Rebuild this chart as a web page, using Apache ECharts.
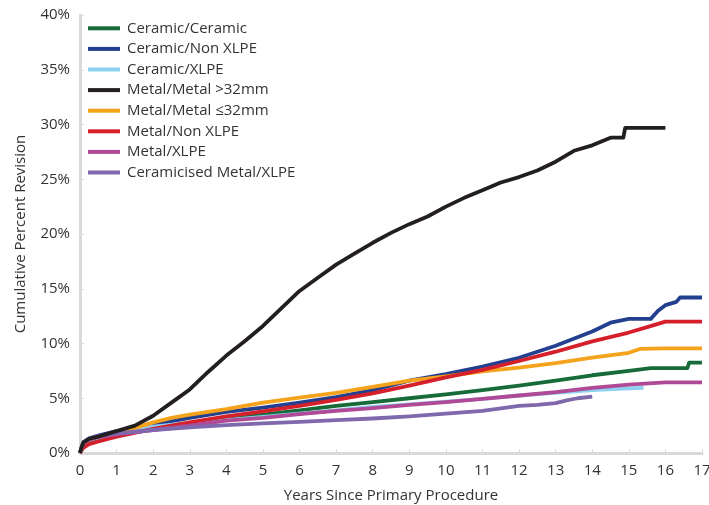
<!DOCTYPE html>
<html><head><meta charset="utf-8">
<script src="https://cdn.jsdelivr.net/npm/echarts@6/dist/echarts.min.js"></script>
<style>html,body{margin:0;padding:0;background:#fff}#c{width:709px;height:505px}</style>
</head><body><div id="c"></div>
<script>
// [years, cumulative percent revision]
const ceramicCeramic = [[0,0],[0.05,0.5],[0.1,0.8],[0.25,1.1],[0.5,1.35],[1,1.7],[2,2.2],[3,2.6],[4,3.05],[5,3.5],[6,3.9],[7,4.3],[8,4.65],[9,5.0],[10,5.35],[11,5.75],[12,6.15],[13,6.6],[14,7.1],[15,7.5],[15.6,7.75],[16.6,7.75],[16.65,8.25],[17,8.25]];
const ceramicNonXLPE = [[0,0],[0.05,0.6],[0.1,1.0],[0.25,1.35],[0.5,1.6],[1,2.0],[1.5,2.3],[2,2.6],[3,3.2],[4,3.75],[5,4.15],[6,4.6],[7,5.1],[8,5.75],[9,6.6],[10,7.2],[11,7.9],[12,8.7],[13,9.8],[14,11.1],[14.5,11.9],[15,12.25],[15.6,12.25],[15.8,13.0],[16,13.5],[16.3,13.8],[16.4,14.2],[17,14.2]];
const ceramicXLPE = [[0,0],[0.05,0.5],[0.1,0.9],[0.25,1.2],[0.5,1.4],[1,1.75],[2,2.4],[3,2.75],[4,3.0],[5,3.3],[6,3.6],[7,3.9],[8,4.2],[9,4.45],[10,4.7],[11,4.95],[12,5.25],[13,5.5],[14,5.75],[15,5.9],[15.4,5.95]];
const metalMetalGt32 = [[0,0],[0.05,0.6],[0.1,1.0],[0.25,1.3],[0.5,1.5],[1,2.0],[1.5,2.5],[2,3.4],[2.5,4.6],[3,5.8],[3.5,7.4],[4,8.9],[4.5,10.2],[5,11.6],[5.5,13.2],[6,14.8],[6.5,16.0],[7,17.2],[7.5,18.2],[8,19.2],[8.5,20.1],[9,20.9],[9.5,21.6],[10,22.5],[10.5,23.3],[11,24.0],[11.5,24.7],[12,25.2],[12.5,25.8],[13,26.6],[13.5,27.6],[14,28.1],[14.5,28.8],[14.85,28.8],[14.9,29.7],[16,29.7]];
const metalMetalLe32 = [[0,0],[0.05,0.5],[0.1,0.9],[0.25,1.2],[0.5,1.5],[1,1.85],[1.5,2.3],[2,2.8],[2.5,3.2],[3,3.5],[4,4.0],[5,4.6],[6,5.05],[7,5.5],[8,6.05],[9,6.6],[10,7.0],[11,7.45],[12,7.8],[13,8.2],[14,8.7],[15,9.15],[15.3,9.5],[16,9.55],[17,9.55]];
const metalNonXLPE = [[0,0],[0.05,0.3],[0.1,0.5],[0.25,0.8],[0.5,1.05],[1,1.5],[2,2.2],[3,2.8],[4,3.35],[5,3.8],[6,4.3],[7,4.85],[8,5.45],[9,6.15],[10,6.9],[11,7.6],[12,8.4],[13,9.25],[14,10.2],[15,11.0],[15.5,11.5],[16,12.0],[17,12.0]];
const metalXLPE = [[0,0],[0.05,0.5],[0.1,0.9],[0.25,1.2],[0.5,1.45],[1,1.7],[2,2.1],[3,2.5],[4,2.95],[5,3.2],[6,3.55],[7,3.85],[8,4.1],[9,4.4],[10,4.65],[11,4.95],[12,5.25],[13,5.55],[14,5.95],[15,6.25],[16,6.45],[17,6.45]];
const ceramicisedMetalXLPE = [[0,0],[0.05,0.6],[0.1,1.0],[0.25,1.3],[0.5,1.55],[1,1.8],[2,2.1],[3,2.35],[4,2.55],[5,2.7],[6,2.85],[7,3.0],[8,3.15],[9,3.35],[10,3.6],[11,3.85],[12,4.3],[12.5,4.4],[13,4.55],[13.3,4.8],[13.6,5.0],[14,5.15]];

const seriesNames = ['Ceramic/Ceramic','Ceramic/Non XLPE','Ceramic/XLPE','Metal/Metal >32mm','Metal/Metal \u226432mm','Metal/Non XLPE','Metal/XLPE','Ceramicised Metal/XLPE'];
const seriesData = [ceramicCeramic, ceramicNonXLPE, ceramicXLPE, metalMetalGt32, metalMetalLe32, metalNonXLPE, metalXLPE, ceramicisedMetalXLPE];
const seriesColors = ['#176b38','#233f8f','#8ed0ef','#231f20','#f5a21c','#d51f2a','#b04a97','#8068ad'];

const FONT = '"Open Sans", "Noto Sans", sans-serif';
const chart = echarts.init(document.getElementById('c'), null, {renderer:'canvas'});
chart.setOption({
  animation:false,
  backgroundColor:'#fff',
  grid:{left:80, right:7, top:15, bottom:52, containLabel:false, outerBoundsMode:'none'},
  legend:{
    orient:'vertical', left:83, top:13, itemWidth:32, itemHeight:4, itemGap:0,
    icon:'rect',
    textStyle:{fontFamily:FONT, fontSize:15, color:'#333', lineHeight:14.6, padding:[6,0,0,2]},
    data:seriesNames
  },
  xAxis:{
    type:'value', min:0, max:17, interval:1,
    name:'Years Since Primary Procedure', nameLocation:'middle', nameGap:35,
    nameTextStyle:{fontFamily:FONT, fontSize:15, color:'#333'},
    axisLine:{show:true, lineStyle:{color:'#d9d9d9', width:3}},
    axisTick:{show:true, inside:true, length:4, lineStyle:{color:'#d9d9d9', width:1}},
    axisLabel:{fontFamily:FONT, fontSize:15, color:'#333', margin:10},
    splitLine:{show:false}
  },
  yAxis:{
    type:'value', min:0, max:40, interval:5,
    name:'Cumulative Percent Revision', nameLocation:'middle', nameGap:52,
    nameTextStyle:{fontFamily:FONT, fontSize:15, color:'#333'},
    axisLine:{show:true, lineStyle:{color:'#d9d9d9', width:3}},
    axisTick:{show:true, inside:true, length:4, lineStyle:{color:'#d9d9d9', width:1}},
    axisLabel:{fontFamily:FONT, fontSize:15, color:'#333', margin:10, formatter:'{value}%'},
    splitLine:{show:false}
  },
  series: seriesNames.map((n,i)=>({
    name:n, type:'line', data:seriesData[i], showSymbol:false, symbol:'none',
    smooth:false,
    lineStyle:{width:3.8, color:seriesColors[i], join:'round'}, itemStyle:{color:seriesColors[i]},
    z: i===3 ? 5 : 2
  }))
});
</script></body></html>
